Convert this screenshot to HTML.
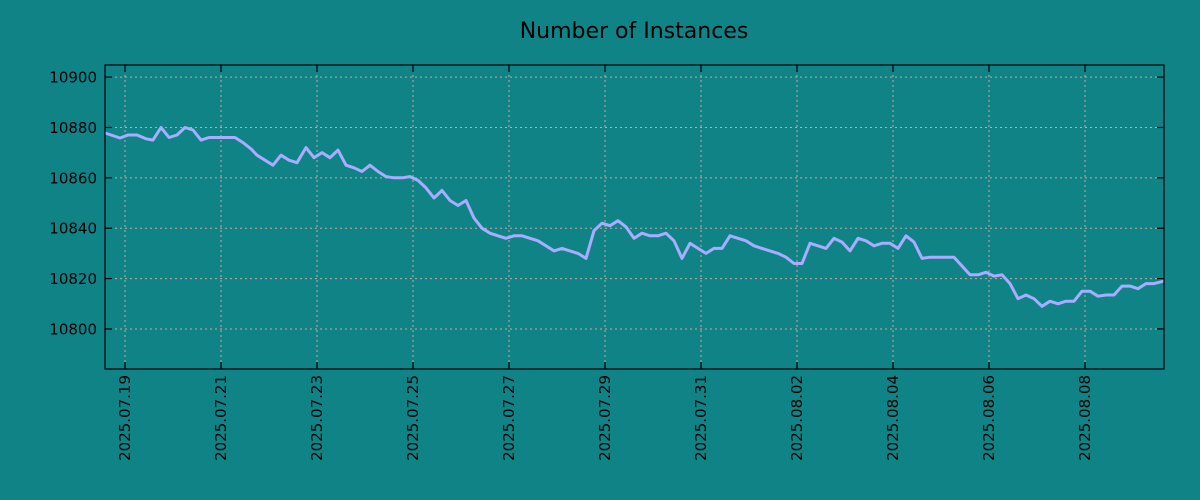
<!DOCTYPE html>
<html><head><meta charset="utf-8"><style>
body{margin:0;background:#108387;}
svg{display:block;font-family:"DejaVu Sans","Liberation Sans",sans-serif;}
</style></head><body>
<svg id="chart" width="1200" height="500">
<rect width="1200" height="500" fill="#108387"/>
<text x="634" y="38" text-anchor="middle" font-size="22" fill="#000">Number of Instances</text>
<g id="grid"></g><g id="series"></g><g id="axes"></g>
</svg>
<script>
const hours=[-10,-2.5,1.5,6,10.5,14,18,22,26,30,34,38,42,55,59,63,66,70,74,78,82,86,90.5,94.5,98.5,102.5,106.5,110.5,114.5,118.5,122.5,126.5,130.5,134.5,138.5,142.5,146.5,150.5,154.5,158.5,162.5,166.5,170.5,174.5,178.5,182.5,186.5,190.5,194.5,198.5,202.5,206.5,210.5,214.5,218.5,222.5,226.5,230.5,234.5,238.5,242.5,246.5,250.5,254.5,258.5,262.5,266.5,270.5,274.5,278.5,282.5,286.5,290.5,294.5,298.5,302.5,306.5,310.5,314.5,318.5,322.5,326.5,330.5,334.5,338.5,342.5,346.5,350.5,354.5,358.5,362.5,366.5,370.5,374.5,378.5,382.5,386.5,390.5,394.5,398.5,402.5,414.5,418.5,422.5,426.5,430.5,434.5,438.5,442.5,446.5,450.5,454.5,458.5,462.5,466.5,470.5,474.5,478.5,482.5,486.5,490.5,494.5,498.5,502.5,506.5,510.5,514.5,519.5];
const values=[10877.8,10875.8,10877,10877,10875.5,10875,10880,10876,10877,10880,10879,10875,10876,10876,10874,10871.5,10869,10867,10865,10869,10867,10866,10872,10868,10870,10868,10871,10865,10864,10862.5,10865,10862.5,10860.5,10860,10860,10860.5,10859,10856,10852,10855,10851,10849,10851,10844,10840,10838,10837,10836,10837,10837,10836,10835,10833,10831,10832,10831,10830,10828,10839,10842,10841,10843,10840.5,10836,10838,10837,10837,10838,10835,10828,10834,10832,10830,10832,10832,10837,10836,10835,10833,10832,10831,10830,10828.5,10826,10826,10834,10833,10832,10836,10834.5,10831,10836,10835,10833,10834,10834,10832,10837,10834.5,10828,10828.5,10828.5,10825,10821.5,10821.5,10822.5,10821,10821.5,10818,10812,10813.5,10812,10809,10811,10810,10811,10811,10815,10815,10813,10813.5,10813.5,10817,10817,10816,10818,10818,10819];
const yTicks=[10800,10820,10840,10860,10880,10900];
const xTickDays=[0,2,4,6,8,10,12,14,16,18,20];
const xTickLabels=["2025.07.19","2025.07.21","2025.07.23","2025.07.25","2025.07.27","2025.07.29","2025.07.31","2025.08.02","2025.08.04","2025.08.06","2025.08.08"];
const L=105,R=1164,T=65,B=369;
const xMinH=-10,xMaxH=519.5,yMin=10784.1,yMax=10904.8;
const xs=h=>L+(h-xMinH)/(xMaxH-xMinH)*(R-L);
const ys=v=>B-(v-yMin)/(yMax-yMin)*(B-T);
const NS="http://www.w3.org/2000/svg";
function mk(tag,attrs,parent){const e=document.createElementNS(NS,tag);for(const k in attrs)e.setAttribute(k,attrs[k]);parent.appendChild(e);return e;}
const grid=document.getElementById('grid'),axes=document.getElementById('axes'),series=document.getElementById('series');
yTicks.forEach(v=>{const y=ys(v);
 const g=mk('line',{x1:L,x2:R,y1:y,y2:y,stroke:'#c8a89a','stroke-width':1,'stroke-dasharray':'2,3'},grid);
 
 
 mk('line',{x1:L,x2:L+7,y1:y,y2:y,stroke:'#000','stroke-width':1.2},axes);
 mk('line',{x1:R-7,x2:R,y1:y,y2:y,stroke:'#000','stroke-width':1.2},axes);
 const t=mk('text',{x:L-8,y:y+5.5,'text-anchor':'end','font-size':15,fill:'#000'},axes);t.textContent=v;
 
 
});
xTickDays.forEach((d,i)=>{const x=xs(d*24);
 const g=mk('line',{x1:x,x2:x,y1:T,y2:B,stroke:'#c8a89a','stroke-width':1,'stroke-dasharray':'2,3'},grid);
 
 
 mk('line',{x1:x,x2:x,y1:B-7,y2:B,stroke:'#000','stroke-width':1.2},axes);
 mk('line',{x1:x,x2:x,y1:T,y2:T+7,stroke:'#000','stroke-width':1.2},axes);
 const t=mk('text',{x:0,y:0,'text-anchor':'end','font-size':15,fill:'#000',transform:`translate(${x+5},${B+6}) rotate(-90)`},axes);t.textContent=xTickLabels[i];
 
 
});
const fr=mk('rect',{x:L,y:T,width:R-L,height:B-T,fill:'none',stroke:'#000','stroke-width':1.2},axes);


const pts=hours.map((h,i)=>xs(h).toFixed(1)+','+ys(values[i]).toFixed(1)).join(' ');
const pl=mk('polyline',{points:pts,fill:'none',stroke:'#a9adff','stroke-width':3,'stroke-linejoin':'round'},series);


</script>
</body></html>
